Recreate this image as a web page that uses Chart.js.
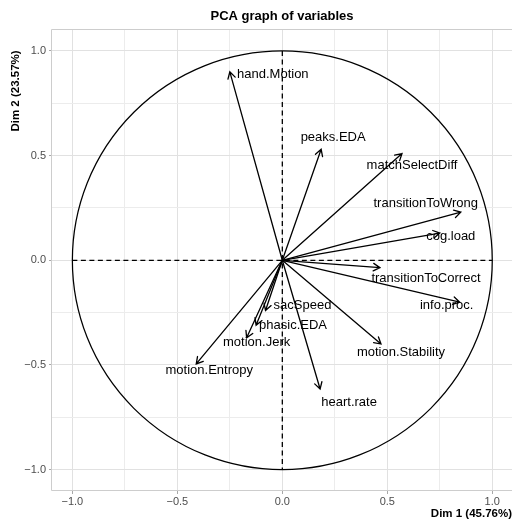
<!DOCTYPE html>
<html>
<head>
<meta charset="utf-8">
<script src="https://cdn.jsdelivr.net/npm/chart.js@4/dist/chart.umd.min.js"></script>
<style>
html, body { margin: 0; padding: 0; background: #fff; }
#wrap { width: 512px; height: 522px; }
</style>
</head>
<body>
<div id="wrap"><canvas id="pcaChart" width="512" height="522"></canvas></div>
<script>
// variable loadings on the first two dimensions
const variables = ['hand.Motion', 'peaks.EDA', 'matchSelectDiff', 'transitionToWrong', 'cog.load',
  'transitionToCorrect', 'info.proc.', 'motion.Stability', 'heart.rate', 'motion.Entropy',
  'motion.Jerk', 'phasic.EDA', 'sacSpeed'];
const dim1 = [-0.25, 0.185, 0.57, 0.85, 0.75, 0.465, 0.845, 0.47, 0.18, -0.41, -0.17, -0.125, -0.08];
const dim2 = [0.90, 0.53, 0.51, 0.23, 0.13, -0.035, -0.20, -0.40, -0.615, -0.495, -0.37, -0.31, -0.24];

const gridSteps = [-1, -0.75, -0.5, -0.25, 0, 0.25, 0.5, 0.75, 1];
const majorTicks = [-1, -0.5, 0, 0.5, 1];
const tickLabels = ['\u22121.0', '\u22120.5', '0.0', '0.5', '1.0'];

// where each name sits relative to its arrow tip (px)
const labelNudge = [[43, 3], [12, -12], [10, 12], [-35, -9], [11, 3], [46, 11], [-13, 3],
  [20, 8], [29, 13], [13, 7], [10, 5], [37, 0], [37, -5]];

const FONT = '"Liberation Sans", Arial, Helvetica, sans-serif';
const isMajor = v => majorTicks.includes(v);

const tickText = v => {
  const i = majorTicks.indexOf(v);
  return i < 0 ? '' : tickLabels[i];
};

function gridOpts() {
  return {
    color: c => isMajor(c.tick.value) ? '#e1e1e1' : '#ececec',
    lineWidth: 1,
    tickLength: 3,
    tickColor: c => isMajor(c.tick.value) ? '#a8a8a8' : 'rgba(0,0,0,0)'
  };
}

const pcaDecor = {
  id: 'pcaDecor',
  beforeDatasetsDraw(chart) {
    const { ctx, chartArea: a, scales: { x, y } } = chart;
    ctx.save();
    // panel frame
    ctx.strokeStyle = '#cdcdcd';
    ctx.lineWidth = 1;
    ctx.beginPath();
    ctx.moveTo(a.right + 2, a.top - 0.5);
    ctx.lineTo(a.left - 0.5, a.top - 0.5);
    ctx.lineTo(a.left - 0.5, a.bottom - 0.5);
    ctx.lineTo(a.right + 2, a.bottom - 0.5);
    ctx.stroke();

    const cx = x.getPixelForValue(0), cy = y.getPixelForValue(0);
    // dashed axes through the origin
    ctx.strokeStyle = '#000';
    ctx.lineWidth = 1.3;
    ctx.setLineDash([5, 3.5]);
    ctx.beginPath();
    ctx.moveTo(x.getPixelForValue(-1), cy);
    ctx.lineTo(x.getPixelForValue(1), cy);
    ctx.moveTo(cx, y.getPixelForValue(1));
    ctx.lineTo(cx, y.getPixelForValue(-1));
    ctx.stroke();
    ctx.setLineDash([]);

    // unit circle
    ctx.lineWidth = 1.25;
    ctx.beginPath();
    ctx.ellipse(cx, cy, x.getPixelForValue(1) - cx, cy - y.getPixelForValue(1), 0, 0, Math.PI * 2);
    ctx.stroke();
    ctx.restore();
  },
  afterDatasetsDraw(chart) {
    const { ctx, scales: { x, y } } = chart;
    const ox = x.getPixelForValue(0), oy = y.getPixelForValue(0);
    const pts = chart.getDatasetMeta(0).data;
    ctx.save();
    ctx.strokeStyle = '#000';
    ctx.lineWidth = 1.3;
    ctx.lineCap = 'round';
    pts.forEach(p => {
      const ang = Math.atan2(p.y - oy, p.x - ox);
      const head = 7.5, spread = Math.PI / 6;
      ctx.beginPath();
      ctx.moveTo(ox, oy);
      ctx.lineTo(p.x, p.y);
      ctx.moveTo(p.x - head * Math.cos(ang - spread), p.y - head * Math.sin(ang - spread));
      ctx.lineTo(p.x, p.y);
      ctx.lineTo(p.x - head * Math.cos(ang + spread), p.y - head * Math.sin(ang + spread));
      ctx.stroke();
    });
    ctx.fillStyle = '#000';
    ctx.font = '13px ' + FONT;
    ctx.textAlign = 'center';
    ctx.textBaseline = 'middle';
    pts.forEach((p, i) => {
      ctx.fillText(variables[i], p.x + labelNudge[i][0], p.y + labelNudge[i][1]);
    });
    ctx.restore();
  },
  afterDraw(chart) {
    const { ctx } = chart;
    ctx.save();
    ctx.translate(16, 91);
    ctx.rotate(-Math.PI / 2);
    ctx.font = 'bold 11.5px ' + FONT;
    ctx.fillStyle = '#000';
    ctx.textAlign = 'center';
    ctx.textBaseline = 'middle';
    ctx.fillText('Dim 2 (23.57%)', 0, 0);
    ctx.restore();
  }
};

new Chart(document.getElementById('pcaChart'), {
  type: 'scatter',
  data: {
    datasets: [{
      label: 'variables',
      data: dim1.map((v, i) => ({ x: v, y: dim2[i] })),
      pointRadius: 0,
      pointHoverRadius: 0,
      showLine: false
    }]
  },
  options: {
    responsive: false,
    animation: false,
    events: [],
    devicePixelRatio: 1,
    layout: { padding: 0 },
    plugins: {
      legend: { display: false },
      tooltip: { enabled: false },
      title: {
        display: true,
        fullSize: false,
        text: 'PCA graph of variables',
        color: '#000',
        font: { family: FONT, size: 13, weight: 'bold', lineHeight: 1.2 },
        padding: { top: 9, bottom: 5.4 }
      }
    },
    scales: {
      x: {
        type: 'linear',
        min: -1.097,
        max: 1.094,
        afterBuildTicks: s => { s.ticks = gridSteps.map(v => ({ value: v })); },
        afterFit: s => { s.height = 31; },
        grid: gridOpts(),
        border: { display: false },
        ticks: {
          autoSkip: false, maxRotation: 0, padding: 1, color: '#4d4d4d',
          font: { family: FONT, size: 11 },
          callback: v => tickText(v)
        },
        title: {
          display: true,
          text: 'Dim 1 (45.76%)',
          align: 'end',
          color: '#000',
          font: { family: FONT, size: 11.5, weight: 'bold', lineHeight: 1.2 },
          padding: { top: 0, bottom: 1 }
        }
      },
      y: {
        type: 'linear',
        min: -1.102,
        max: 1.1,
        afterBuildTicks: s => { s.ticks = gridSteps.map(v => ({ value: v })); },
        afterFit: s => { s.width = 52; },
        grid: gridOpts(),
        border: { display: false },
        ticks: {
          autoSkip: false, padding: 3, color: '#4d4d4d',
          font: { family: FONT, size: 11 },
          callback: v => tickText(v)
        }
      }
    }
  },
  plugins: [pcaDecor]
});
</script>
</body>
</html>
